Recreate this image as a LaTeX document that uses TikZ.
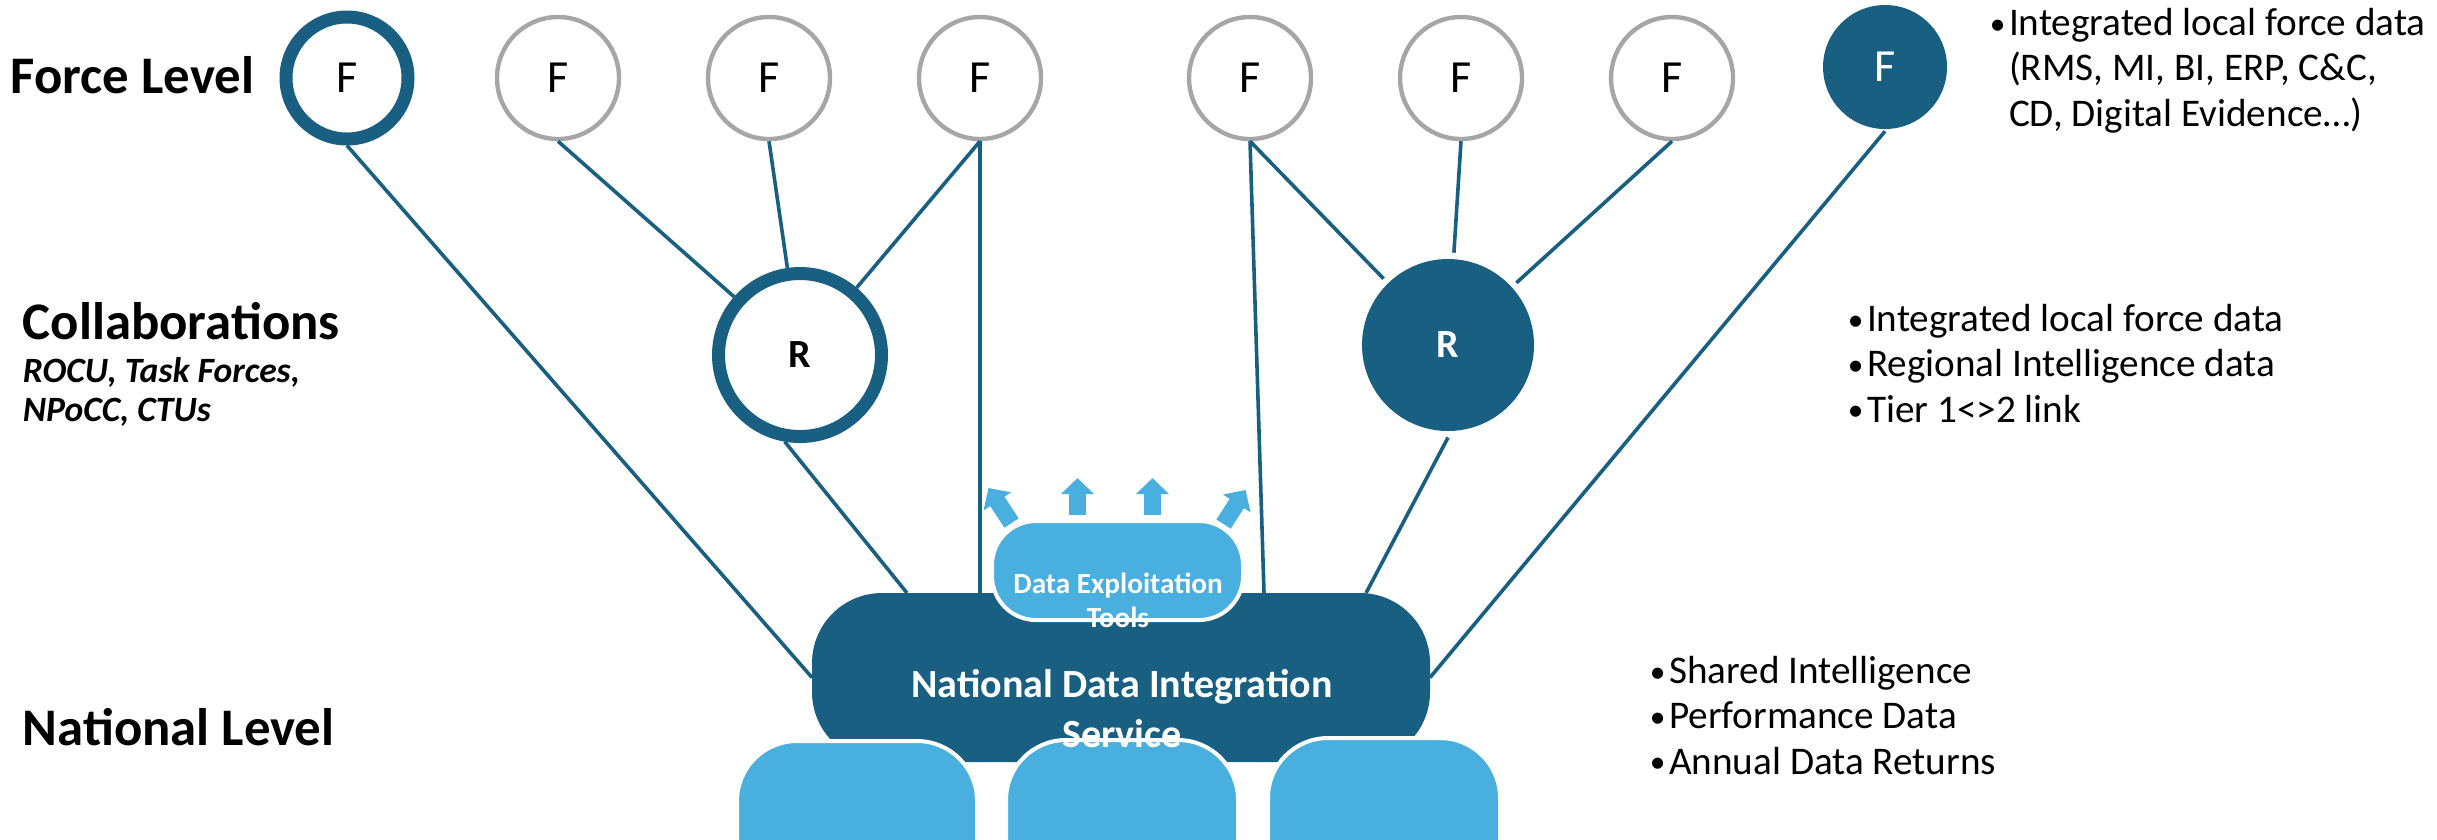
\documentclass[tikz,border=0pt]{standalone}
\usepackage{fontspec}
\usepackage{graphicx}
\setmainfont{Carlito}
\usetikzlibrary{positioning,calc,arrows.meta}

\definecolor{ndisblue}{HTML}{185F82}
\definecolor{lightblue}{HTML}{48AFDF}
\definecolor{ringgrey}{HTML}{A6A6A6}

\newcommand{\blt}{\makebox[4.8pt][l]{\raisebox{0.4pt}{\scalebox{0.8}{\textbullet}}}}
\newcommand{\bltgap}{\hspace*{4.8pt}}

\begin{document}
\begin{tikzpicture}[x=0.25pt, y=-0.25pt, node distance=52.75pt, align=center,
    force/.style={circle, minimum size=30.5pt, inner sep=0pt, fill=white, draw=ringgrey, line width=1.1pt, font=\fontsize{11.5pt}{12pt}\selectfont},
    forcering/.style={force, draw=ndisblue, line width=3.25pt},
    forcefill/.style={force, minimum size=31pt, draw=none, fill=ndisblue, text=white},
    regionring/.style={circle, minimum size=40.75pt, inner sep=0pt, fill=white, draw=ndisblue, line width=3.25pt, font=\bfseries\fontsize{10pt}{12pt}\selectfont},
    regionfill/.style={regionring, minimum size=43pt, draw=none, fill=ndisblue, text=white},
    link/.style={draw=ndisblue, line width=0.9pt},
    pill/.style={rectangle, rounded corners=15pt, fill=lightblue, draw=white, line width=1pt},
    uparrow/.style={draw=lightblue, line width=4.25pt, -{Triangle[width=8pt, length=4pt]}},
    whitetext/.style={anchor=base, inner sep=0pt, text=white, font=\bfseries\fontsize{10pt}{12.5pt}\selectfont},
    level/.style={anchor=base west, inner sep=0pt, align=left, font=\bfseries\fontsize{13.2pt}{14pt}\selectfont},
    bullets/.style={anchor=base west, inner sep=0pt, align=left, font=\fontsize{9.8pt}{11.3pt}\selectfont}]

    \useasboundingbox (0,0) rectangle (2437,839);
    \clip (0,0) rectangle (2437,839);

    % force level
    \node[forcering] (F1) at (347,78) {F};
    \node[force] (F2) [right of=F1] {F};
    \node[force] (F3) [right of=F2] {F};
    \node[force] (F4) [right of=F3] {F};

    \node[force] (F5) at (1250,78) {F};
    \node[force] (F6) [right of=F5] {F};
    \node[force] (F7) [right of=F6] {F};
    \node[forcefill] (F8) at (1885,67) {F};

    % collaborations
    \node[regionring] (R1) at (800,355) {R};
    \node[regionfill] (R2) at (1448,345) {R};

    % national level
    \node[rectangle, rounded corners=17.5pt, fill=ndisblue, outer sep=0pt,
          minimum width=154.5pt, minimum height=42.25pt] (NDIS) at (1121,677.5) {};
    \node[pill, minimum width=60pt, minimum height=50pt] (B1) at (857,841) {};
    \node[pill, minimum width=58pt, minimum height=50pt] (B2) at (1122,840) {};
    \node[pill, minimum width=58pt, minimum height=50pt] (B3) at (1384,838) {};

    \node[pill, rounded corners=11pt, minimum width=62.75pt, minimum height=24.75pt] (DET) at (1117.5,570.5) {};
    \foreach \dx/\dy/\ex/\ey in {-106/4/-23/-35, -40/-4/0/-37, 35/-4/0/-37, 106/5/22/-34}
        \draw[uparrow] ($(DET.north)+(\dx,\dy)$) -- ++(\ex,\ey);

    \node[whitetext, font=\bfseries\fontsize{7.3pt}{8.5pt}\selectfont] (DETtext) at (1118,627) {Data Exploitation\\Tools};
    \node[whitetext] (NDIStext) at (1122,747) {National Data Integration\\Service};

    %%%%% Links %%%%%
    \draw[link] (F1.south) -- (NDIS.west);
    \draw[link] (F2.south) -- (R1);
    \draw[link] (F3.south) -- (R1);
    \draw[link] (F4.south) -- (R1);
    \draw[link] (F4.south) -- (F4.south |- NDIS.north);
    \draw[link] (R1.-100) -- ($(NDIS.north west)+(95,0)$);

    \draw[link] (F5.south) -- (R2);
    \draw[link] (F6.south) -- (R2);
    \draw[link] (F7.south) -- (R2);
    \draw[link] (F5.south) -- ($(NDIS.north west)+(452,0)$);
    \draw[link] (R2.south) -- ($(NDIS.north west)+(554,0)$);
    \draw[link] (F8.south) -- (NDIS.east);

    % level labels
    \node[level] (forceLbl) at (10,93) {Force Level};
    \node[level] (collabLbl) at (22,339) {Collaborations};
    \node[level, font=\bfseries\itshape\fontsize{8.9pt}{9.75pt}\selectfont] (collabSub) at (22,421) {ROCU, Task Forces,\\NPoCC, CTUs};
    \node[level] (natLbl) at (22,745) {National Level};

    % notes
    \node[bullets] (forceNote) at (1989,126) {\blt Integrated local force data\\\bltgap(RMS, MI, BI, ERP, C\&C,\\\bltgap CD, Digital Evidence\ldots)};
    \node[bullets] (regionNote) at (1847,422) {\blt Integrated local force data\\\blt Regional Intelligence data\\\blt Tier 1<>2 link};
    \node[bullets] (nationalNote) at (1649,774) {\blt Shared Intelligence\\\blt Performance Data\\\blt Annual Data Returns};

\end{tikzpicture}
\end{document}
